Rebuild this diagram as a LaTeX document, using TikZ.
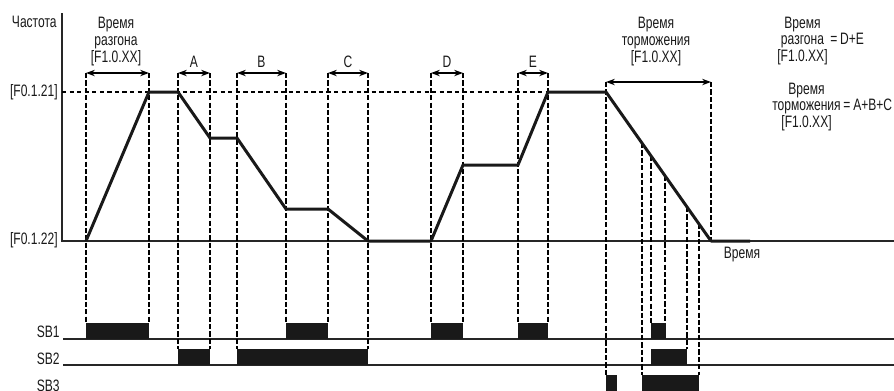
\documentclass[tikz,border=0pt]{standalone}
\usepackage{fontspec}
\setmainfont{Liberation Sans}[FakeStretch=0.73]
\usetikzlibrary{arrows.meta}

\begin{document}
\begin{tikzpicture}[
  x=0.02cm,y=-0.02cm,
  axis/.style={draw=black!85,line width=0.6pt},
  freq/.style={draw=black!90,line width=1.7pt,line join=round},
  guide/.style={draw=black,line width=1pt,dash pattern=on 3pt off 1.2pt},
  level/.style={draw=black,line width=1pt,dash pattern=on 2.4pt off 1.9pt},
  span/.style={{Stealth[length=5pt,width=3.6pt]}-{Stealth[length=5pt,width=3.6pt]},draw=black,line width=1pt},
  pulse/.style={fill=black!90},
  label/.style={font=\fontsize{9.4}{9.6}\selectfont,text=black!90,inner sep=0pt},
]
\useasboundingbox (0,0) rectangle (894,390);
% axes and signal lines
\draw[axis] (62,13) -- (62,241) -- (894,241);
\draw[axis] (63,339) -- (894,339);
\draw[axis] (63,365) -- (894,365);
\node[label,anchor=base east] at (57,27) {Частота};
\node[label,anchor=east] at (58,92) {[F0.1.21]};
\node[label,anchor=east] at (58,240) {[F0.1.22]};
\node[label,anchor=base east] at (60,337) {SB1};
\node[label,anchor=base east] at (60,364) {SB2};
\node[label,anchor=base east] at (60,391) {SB3};
\node[label,anchor=base] at (742,258) {Время};
% guide lines
\draw[level] (62,92) -- (548,92);
\foreach \x/\t/\b in {86/73/323,149/73/323,178/73/349,210/73/349,237/73/349,
    286/73/323,328/73/323,368/73/349,431/73/323,463/73/323,518/73/323,
    548/73/323,606/82/375,711/82/241,642/143/375,651/156/323,665/176/323,
    687/207/349,699/224/375}
  \draw[guide] (\x,\t) -- (\x,\b);
% switch pulses
\foreach \a/\b in {86/149,286/328,431/463,518/548,651/666}
  \fill[pulse] (\a,323) rectangle (\b,339);
\foreach \a/\b in {178/210,237/368,651/687}
  \fill[pulse] (\a,349) rectangle (\b,365);
\foreach \a/\b in {606/617,642/699}
  \fill[pulse] (\a,375) rectangle (\b,392);
% frequency profile
\draw[freq] (86,241) -- (149,92) -- (178,92) -- (210,138) -- (237,138)
  -- (286,209) -- (328,209) -- (368,241) -- (431,241) -- (463,165)
  -- (518,165) -- (548,92) -- (606,92) -- (711,241) -- (750,241);
% time spans
\foreach \a/\b/\n in {86/149/,178/210/A,237/286/B,328/368/C,431/463/D,518/548/E}{
  \draw[span] (\a,73) -- (\b,73);
  \node[label,anchor=base] at ({(\a+\b)/2},67) {\n};
}
\draw[span] (606,82) -- (711,82);
\node[label,anchor=base,align=center] at (116,62) {Время\\разгона\\{[F1.0.XX]}};
\node[label,anchor=base,align=center] at (656,62) {Время\\торможения\\{[F1.0.XX]}};
% sums
\node[label,anchor=base west] (accsum) at (777,28)
  {\begin{tabular}[t]{@{}c@{\,}l@{}}Время&\\разгона&=\,D+E\\{[F1.0.XX]}&\end{tabular}};
\node[label,anchor=base west] (decsum) at (772,94)
  {\begin{tabular}[t]{@{}c@{\,}l@{}}Время&\\торможения&=\,A+B+C\\{[F1.0.XX]}&\end{tabular}};
\end{tikzpicture}
\end{document}
